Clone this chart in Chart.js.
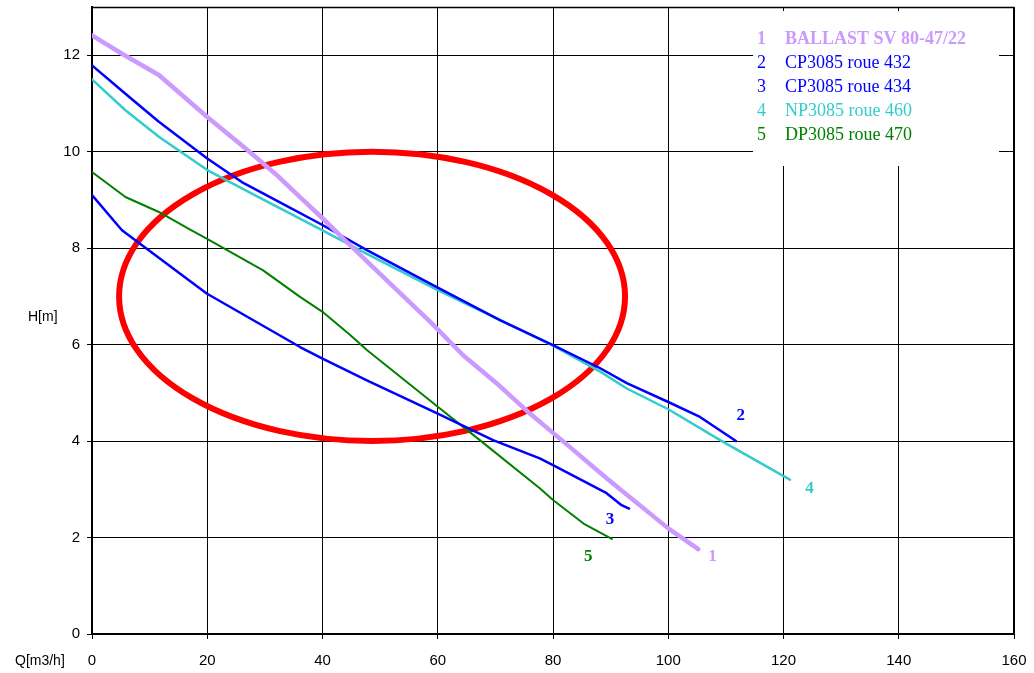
<!DOCTYPE html>
<html>
<head>
<meta charset="utf-8">
<script src="https://cdn.jsdelivr.net/npm/chart.js@4/dist/chart.umd.min.js"></script>
<style>
  html, body { margin: 0; padding: 0; background: #fff; }
  #wrap { width: 1034px; height: 673px; }
</style>
</head>
<body>
<div id="wrap"><canvas id="c" width="1034" height="673"></canvas></div>
<script>
// ---- Data ----
const xTicks = [0, 20, 40, 60, 80, 100, 120, 140, 160];
const yTicks = [0, 2, 4, 6, 8, 10, 12];

const seriesNames = ["BALLAST SV 80-47/22", "CP3085 roue 432", "CP3085 roue 434", "NP3085 roue 460", "DP3085 roue 470"];
const seriesNumbers = ["1", "2", "3", "4", "5"];
const seriesColors = ["#CC99FF", "#0000FF", "#0000FF", "#33CCCC", "#008000"];

const q1 = [0, 5.2, 11.6, 20, 26.6, 32.4, 36.1, 40, 44.8, 51.7, 58.7, 64.4, 70.2, 76, 80, 82.9, 89.3, 100, 105.2];
const h1 = [12.41, 12.03, 11.59, 10.72, 10.07, 9.48, 9.06, 8.62, 8.06, 7.27, 6.47, 5.78, 5.2, 4.57, 4.17, 3.88, 3.23, 2.19, 1.76];

const q2 = [0, 5.8, 11.6, 20, 26, 31.8, 40, 47.7, 60, 70.8, 80, 88.2, 92.8, 100, 105.5, 111.75];
const h2 = [11.79, 11.2, 10.62, 9.86, 9.37, 9.0, 8.48, 7.96, 7.18, 6.51, 5.99, 5.51, 5.2, 4.81, 4.5, 4.0];

const q3 = [0, 5.2, 19.9, 36.1, 40, 47.7, 60, 69.6, 77.7, 80, 89.3, 91.9, 93.2];
const h3 = [9.1, 8.37, 7.06, 5.95, 5.71, 5.26, 4.57, 4.02, 3.64, 3.5, 2.92, 2.67, 2.6];

const q4 = [0, 5.8, 11.6, 20, 28.9, 40, 47.7, 60, 80, 88.2, 92.8, 100, 109, 121.1];
const h4 = [11.5, 10.86, 10.31, 9.62, 9.06, 8.37, 7.88, 7.13, 5.98, 5.44, 5.09, 4.66, 4.02, 3.2];

const q5 = [0, 5.8, 11.6, 16.8, 19.9, 29.7, 36.1, 40, 44.8, 47.7, 60, 67.3, 77.7, 80, 85.3, 90.2];
const h5 = [9.58, 9.06, 8.75, 8.4, 8.2, 7.54, 6.99, 6.68, 6.2, 5.89, 4.71, 4.02, 3.02, 2.78, 2.29, 1.97];

// curve end labels: number, Q, H
const endLabelText = ["1", "2", "3", "4", "5"];
const endLabelQ = [107.7, 112.6, 89.9, 124.5, 86.1];
const endLabelH = [1.6, 4.52, 2.38, 3.01, 1.6];

// highlighted zone (ellipse): centre Q, centre H, radius Q, radius H
const zoneEllipse = [48.6, 7.0, 43.9, 3.0];

// ---- Build datasets ----
const qs = [q1, q2, q3, q4, q5];
const hs = [h1, h2, h3, h4, h5];
const widths = [4.5, 2.5, 2.5, 2.5, 2];
const datasets = qs.map((q, i) => ({
  label: seriesNames[i],
  data: q.map((x, k) => ({ x: x, y: hs[i][k] })),
  borderColor: seriesColors[i],
  backgroundColor: seriesColors[i],
  borderWidth: widths[i],
  borderJoinStyle: 'round',
  borderCapStyle: 'round',
  pointRadius: 0,
  showLine: true,
  tension: 0,
  fill: false
}));

const FRAME = { left: 92, top: 7, right: 1014, bottom: 634 };

const decor = {
  id: 'decor',
  beforeDraw(chart) {
    const ctx = chart.ctx;
    ctx.save();
    ctx.fillStyle = '#fff';
    ctx.fillRect(0, 0, chart.width, chart.height);
    ctx.restore();
  },
  beforeDatasetsDraw(chart) {
    const ctx = chart.ctx;
    const xs = chart.scales.x, ys = chart.scales.y;
    const a = chart.chartArea;
    ctx.save();
    // frame top/right
    ctx.strokeStyle = '#000';
    ctx.lineWidth = 1.5;
    ctx.beginPath();
    ctx.moveTo(a.left, a.top + 0.5);
    ctx.lineTo(a.right - 0.25, a.top + 0.5);
    ctx.lineTo(a.right - 0.25, a.bottom);
    ctx.stroke();
    // legend box (white, hides grid)
    ctx.fillStyle = '#fff';
    ctx.fillRect(753, 11, 246, 155);
    // red ellipse
    const cx = xs.getPixelForValue(zoneEllipse[0]);
    const cy = ys.getPixelForValue(zoneEllipse[1]);
    const rx = xs.getPixelForValue(zoneEllipse[0] + zoneEllipse[2]) - cx;
    const ry = cy - ys.getPixelForValue(zoneEllipse[1] + zoneEllipse[3]);
    ctx.strokeStyle = '#FF0000';
    ctx.lineWidth = 6;
    ctx.beginPath();
    ctx.ellipse(cx, cy, rx, ry, 0, 0, Math.PI * 2);
    ctx.stroke();
    ctx.restore();
  },
  afterDatasetsDraw(chart) {
    const ctx = chart.ctx;
    const xs = chart.scales.x, ys = chart.scales.y;
    ctx.save();
    // legend text
    ctx.textBaseline = 'middle';
    ctx.textAlign = 'left';
    const rowY = [39, 63, 87, 111, 135];
    for (let i = 0; i < seriesNames.length; i++) {
      ctx.fillStyle = seriesColors[i];
      ctx.font = (i === 0 ? 'bold ' : '') + '18px "Liberation Serif", "Times New Roman", serif';
      ctx.fillText(seriesNumbers[i], 757, rowY[i]);
      ctx.fillText(seriesNames[i], 785, rowY[i]);
    }
    // curve end labels
    ctx.textAlign = 'center';
    ctx.font = 'bold 17px "Liberation Serif", "Times New Roman", serif';
    for (let i = 0; i < endLabelText.length; i++) {
      ctx.fillStyle = seriesColors[i];
      ctx.fillText(endLabelText[i], xs.getPixelForValue(endLabelQ[i]), ys.getPixelForValue(endLabelH[i]));
    }
    // axis titles
    ctx.fillStyle = '#000';
    ctx.font = '14px "Liberation Sans", Arial, sans-serif';
    ctx.textAlign = 'left';
    ctx.fillText('H[m]', 28, 317);
    ctx.fillText('Q[m3/h]', 15, 661);
    ctx.restore();
  }
};

new Chart(document.getElementById('c'), {
  type: 'scatter',
  data: { datasets: datasets },
  plugins: [decor],
  options: {
    responsive: false,
    devicePixelRatio: 1,
    animation: false,
    layout: { padding: { top: FRAME.top, right: 1034 - FRAME.right, left: 0, bottom: 0 } },
    plugins: { legend: { display: false }, tooltip: { enabled: false }, title: { display: false } },
    scales: {
      x: {
        type: 'linear',
        min: xTicks[0],
        max: xTicks[xTicks.length - 1],
        afterBuildTicks(scale) { scale.ticks = xTicks.map(v => ({ value: v })); },
        afterFit(scale) { scale.height = 673 - FRAME.bottom; scale.paddingLeft = 0; scale.paddingRight = 0; },
        ticks: {
          color: '#000',
          padding: 13,
          maxRotation: 0,
          autoSkip: false,
          font: { family: '"Liberation Sans", Arial, sans-serif', size: 15 }
        },
        grid: { color: '#000', lineWidth: 1, tickLength: 5, drawTicks: true },
        border: { color: '#000', width: 2 }
      },
      y: {
        type: 'linear',
        min: 0,
        max: 13,
        afterBuildTicks(scale) { scale.ticks = yTicks.map(v => ({ value: v })); },
        afterFit(scale) { scale.width = FRAME.left; scale.paddingTop = 0; scale.paddingBottom = 0; },
        ticks: {
          color: '#000',
          padding: 7,
          autoSkip: false,
          font: { family: '"Liberation Sans", Arial, sans-serif', size: 15 }
        },
        grid: { color: '#000', lineWidth: 1, tickLength: 5, drawTicks: true },
        border: { color: '#000', width: 2 }
      }
    }
  }
});
</script>
</body>
</html>
